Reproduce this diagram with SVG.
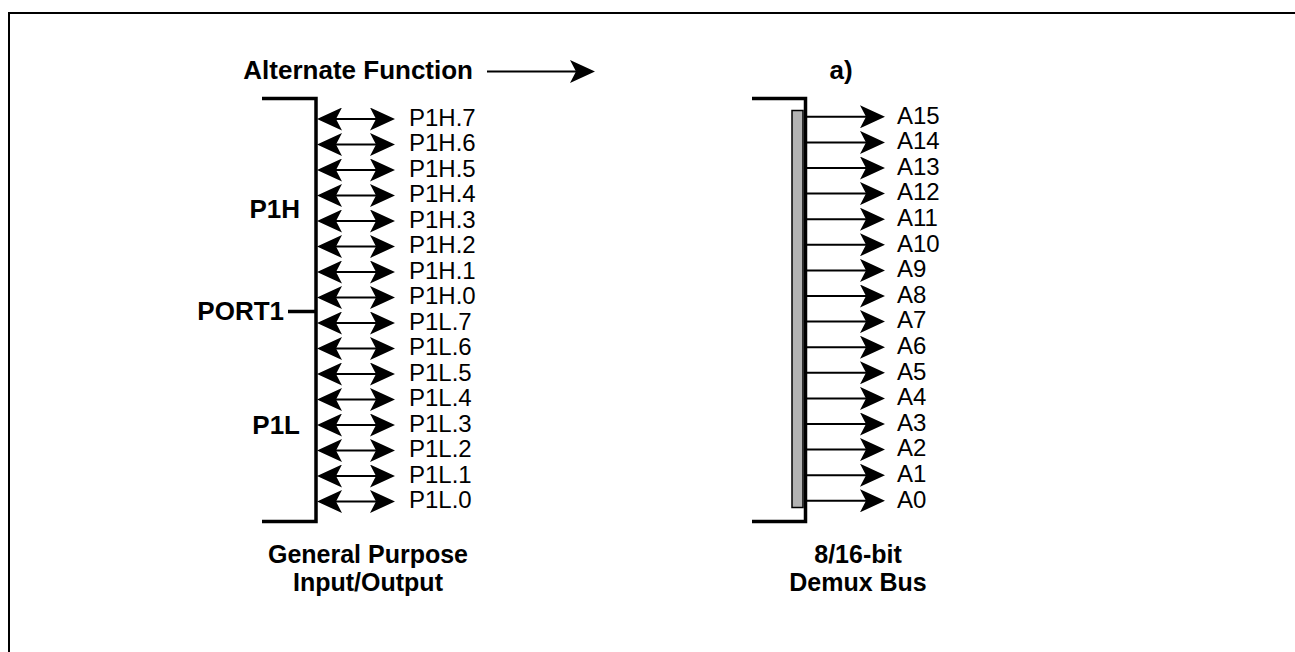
<svg xmlns="http://www.w3.org/2000/svg" width="1295" height="652" viewBox="0 0 1295 652">
<style>
text{font-family:"Liberation Sans",Arial,Helvetica,sans-serif;fill:#000}
.b{font-weight:bold;font-size:26px}
.c{font-weight:bold;font-size:25px}
.r{font-size:24px}
.br{fill:none;stroke:#000;stroke-width:3.5;stroke-linejoin:miter}
.ln{stroke:#000;stroke-width:2;fill:none}
.dbl{marker-start:url(#ah);marker-end:url(#ah)}
.one{marker-end:url(#ah)}
</style>
<defs>
<marker id="ah" markerUnits="userSpaceOnUse" markerWidth="25" markerHeight="23" viewBox="0 0 25 23" refX="18" refY="11.5" orient="auto-start-reverse">
<path d="M0,0 L25,11.5 L0,23 L6,11.5 Z" fill="#000"/>
</marker>
</defs>
<path d="M9,652 V13 H1295" fill="none" stroke="#000" stroke-width="2"/>
<g id="title">
<text class="b" x="473" y="79" text-anchor="end">Alternate Function</text>
<text class="b" x="841" y="79" text-anchor="middle">a)</text>
</g>
<g id="port1">
<path class="br" d="M262,98.5 H316 V521.5 H262"/>
<path class="br" d="M288,311.5 H316" stroke-width="3"/>
<text class="b" x="300" y="218" text-anchor="end">P1H</text>
<text class="b" x="284" y="320" text-anchor="end">PORT1</text>
<text class="b" x="300" y="434" text-anchor="end">P1L</text>
<text class="c" x="368" y="562.5" text-anchor="middle">General Purpose</text>
<text class="c" x="368" y="590.5" text-anchor="middle">Input/Output</text>
<g class="r">
<text x="409" y="125.5">P1H.7</text>
<text x="409" y="151">P1H.6</text>
<text x="409" y="176.5">P1H.5</text>
<text x="409" y="202">P1H.4</text>
<text x="409" y="227.5">P1H.3</text>
<text x="409" y="253">P1H.2</text>
<text x="409" y="278.5">P1H.1</text>
<text x="409" y="304">P1H.0</text>
<text x="409" y="329.5">P1L.7</text>
<text x="409" y="355">P1L.6</text>
<text x="409" y="380.5">P1L.5</text>
<text x="409" y="406">P1L.4</text>
<text x="409" y="431.5">P1L.3</text>
<text x="409" y="457">P1L.2</text>
<text x="409" y="482.5">P1L.1</text>
<text x="409" y="508">P1L.0</text>
</g>
</g>
<g id="demux-bus">
<path class="br" d="M752,98.5 H805.5 V521.5 H752"/>
<rect x="792" y="110.5" width="11" height="397" fill="#b3b3b3" stroke="#000" stroke-width="1.5"/>
<text class="c" x="858" y="563" text-anchor="middle">8/16-bit</text>
<text class="c" x="858" y="591" text-anchor="middle">Demux Bus</text>
<g class="r">
<text x="897" y="123.5">A15</text>
<text x="897" y="149.1">A14</text>
<text x="897" y="174.7">A13</text>
<text x="897" y="200.3">A12</text>
<text x="897" y="225.9">A11</text>
<text x="897" y="251.5">A10</text>
<text x="897" y="277.1">A9</text>
<text x="897" y="302.7">A8</text>
<text x="897" y="328.3">A7</text>
<text x="897" y="353.9">A6</text>
<text x="897" y="379.5">A5</text>
<text x="897" y="405.1">A4</text>
<text x="897" y="430.7">A3</text>
<text x="897" y="456.3">A2</text>
<text x="897" y="481.9">A1</text>
<text x="897" y="507.5">A0</text>
</g>
</g>
<g id="connectors">
<line class="ln one" x1="487" y1="71.5" x2="588" y2="71.5"/>
<g class="ln dbl">
<line x1="324" y1="119" x2="388" y2="119"/>
<line x1="324" y1="144.5" x2="388" y2="144.5"/>
<line x1="324" y1="170" x2="388" y2="170"/>
<line x1="324" y1="195.5" x2="388" y2="195.5"/>
<line x1="324" y1="221" x2="388" y2="221"/>
<line x1="324" y1="246.5" x2="388" y2="246.5"/>
<line x1="324" y1="272" x2="388" y2="272"/>
<line x1="324" y1="297.5" x2="388" y2="297.5"/>
<line x1="324" y1="323" x2="388" y2="323"/>
<line x1="324" y1="348.5" x2="388" y2="348.5"/>
<line x1="324" y1="374" x2="388" y2="374"/>
<line x1="324" y1="399.5" x2="388" y2="399.5"/>
<line x1="324" y1="425" x2="388" y2="425"/>
<line x1="324" y1="450.5" x2="388" y2="450.5"/>
<line x1="324" y1="476" x2="388" y2="476"/>
<line x1="324" y1="501.5" x2="388" y2="501.5"/>
</g>
<g class="ln one">
<line x1="806" y1="116.8" x2="878" y2="116.8"/>
<line x1="806" y1="142.4" x2="878" y2="142.4"/>
<line x1="806" y1="168" x2="878" y2="168"/>
<line x1="806" y1="193.6" x2="878" y2="193.6"/>
<line x1="806" y1="219.2" x2="878" y2="219.2"/>
<line x1="806" y1="244.8" x2="878" y2="244.8"/>
<line x1="806" y1="270.4" x2="878" y2="270.4"/>
<line x1="806" y1="296" x2="878" y2="296"/>
<line x1="806" y1="321.6" x2="878" y2="321.6"/>
<line x1="806" y1="347.2" x2="878" y2="347.2"/>
<line x1="806" y1="372.8" x2="878" y2="372.8"/>
<line x1="806" y1="398.4" x2="878" y2="398.4"/>
<line x1="806" y1="424" x2="878" y2="424"/>
<line x1="806" y1="449.6" x2="878" y2="449.6"/>
<line x1="806" y1="475.2" x2="878" y2="475.2"/>
<line x1="806" y1="500.8" x2="878" y2="500.8"/>
</g>
</g>
</svg>
